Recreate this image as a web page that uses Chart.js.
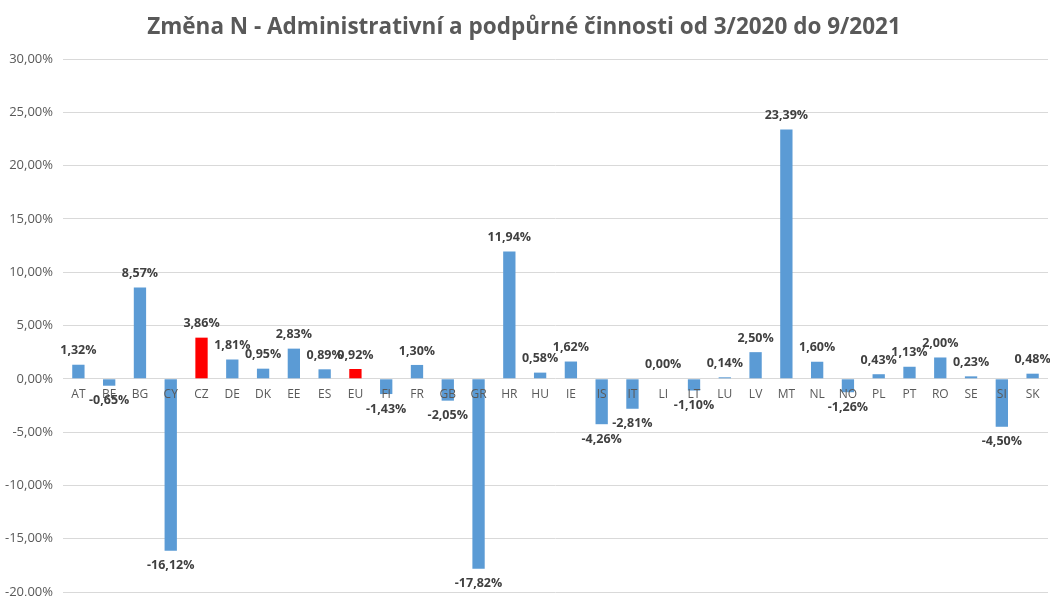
<!DOCTYPE html>
<html>
<head>
<meta charset="utf-8">
<script src="https://cdn.jsdelivr.net/npm/chart.js@4/dist/chart.umd.min.js"></script>
<style>
  html, body { margin: 0; padding: 0; background: #fff; }
  #wrap { width: 1050px; height: 596px; }
</style>
</head>
<body>
<div id="wrap"><canvas id="myChart"></canvas></div>
<script>
// country codes along the x axis
var countries = ['AT','BE','BG','CY','CZ','DE','DK','EE','ES','EU','FI','FR','GB','GR','HR','HU',
                 'IE','IS','IT','LI','LT','LU','LV','MT','NL','NO','PL','PT','RO','SE','SI','SK'];
// change in %
var changes = [1.32,-0.65,8.57,-16.12,3.86,1.81,0.95,2.83,0.89,0.92,-1.43,1.30,-2.05,-17.82,11.94,0.58,
               1.62,-4.26,-2.81,0.00,-1.10,0.14,2.50,23.39,1.60,-1.26,0.43,1.13,2.00,0.23,-4.50,0.48];
// highlighted bars
var highlighted = ['CZ','EU'];

var blue = '#5b9bd5';
var red = '#ff0000';
var font = "'Open Sans', 'Liberation Sans', sans-serif";

function fmt(v) {
  return v.toFixed(2).replace('.', ',') + '%';
}

var barColors = countries.map(function(c) {
  return highlighted.indexOf(c) >= 0 ? red : blue;
});

//draws category names on the zero line and the value labels next to the bars
var labelPlugin = {
  id: 'labels',
  afterDatasetsDraw: function(chart) {
    var ctx = chart.ctx;
    var yScale = chart.scales.y;
    var zero = yScale.getPixelForValue(0);
    var meta = chart.getDatasetMeta(0);
    ctx.save();
    ctx.textAlign = 'center';
    ctx.textBaseline = 'middle';
    ctx.font = '12px ' + font;
    ctx.fillStyle = '#595959';
    meta.data.forEach(function(bar, i) {
      ctx.fillText(countries[i], bar.x, zero + 16);
    });
    ctx.font = 'bold 12.5px ' + font;
    ctx.fillStyle = '#404040';
    meta.data.forEach(function(bar, i) {
      var v = changes[i];
      var y = v >= 0 ? bar.y - 14 : bar.y + 15;
      ctx.fillText(fmt(v), bar.x, y);
    });
    ctx.restore();
  }
};

var config = {
  type: 'bar',
  data: {
    labels: countries,
    datasets: [{
      data: changes,
      backgroundColor: barColors,
      borderWidth: 0,
      categoryPercentage: 1,
      barPercentage: 0.4
    }]
  },
  options: {
    responsive: true,
    maintainAspectRatio: false,
    animation: false,
    layout: { padding: { left: 0, right: 2, top: 0, bottom: 0 } },
    plugins: {
      legend: { display: false },
      tooltip: { enabled: false },
      title: {
        display: true,
        text: 'Změna N - Administrativní a podpůrné činnosti od 3/2020 do 9/2021',
        color: '#595959',
        font: { family: font, size: 22.5, weight: 'bold' },
        padding: { top: 14, bottom: 18 }
      }
    },
    scales: {
      x: {
        display: false,
        offset: true
      },
      y: {
        min: -20,
        max: 30,
        afterFit: function(scale) {
          scale.width = 63;
          scale.paddingBottom = 4; // let the chart reach the bottom edge like the original
        },
        border: { display: false },
        grid: { color: '#d9d9d9', drawTicks: false },
        ticks: {
          stepSize: 5,
          padding: 10,
          color: '#595959',
          font: { family: font, size: 13 },
          callback: function(v) { return fmt(v); }
        }
      }
    }
  },
  plugins: [labelPlugin]
};

var myChart = new Chart(document.getElementById('myChart'), config);
</script>
</body>
</html>
